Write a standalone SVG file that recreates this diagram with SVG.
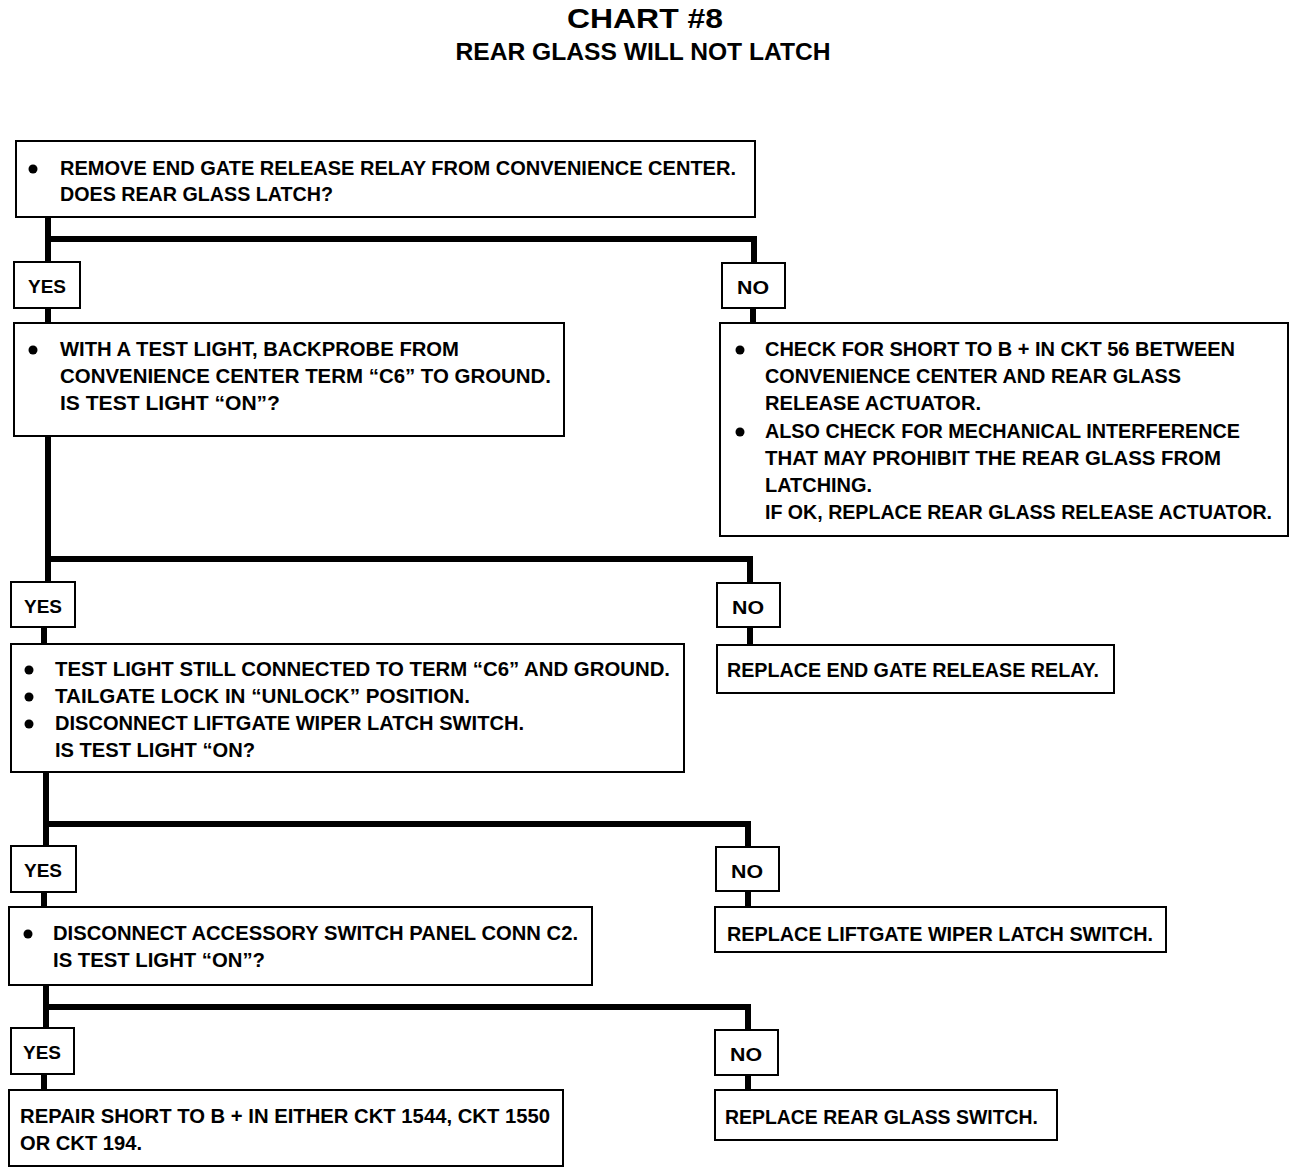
<svg xmlns="http://www.w3.org/2000/svg" width="1312" height="1174" viewBox="0 0 1312 1174">
<style>
text{font-family:"Liberation Sans",Arial,sans-serif;font-weight:bold;fill:#000}
.t{font-size:21px}
.lb{font-size:19px}
.box{fill:#fff;stroke:#000;stroke-width:2}
.con{fill:none;stroke:#000;stroke-width:6;stroke-linejoin:miter;stroke-linecap:butt}
.dot{fill:#000}
</style>
<rect width="1312" height="1174" fill="#fff"/>
<g id="title">
<text x="645" y="28" font-size="28" text-anchor="middle" textLength="156" lengthAdjust="spacingAndGlyphs">CHART #8</text>
<text x="643" y="60" font-size="23" text-anchor="middle" textLength="375" lengthAdjust="spacingAndGlyphs">REAR GLASS WILL NOT LATCH</text>
</g>
<g id="connectors">
<path class="con" d="M48 217V262M48 239H754V263"/>
<path class="con" d="M48 308V323"/>
<path class="con" d="M753 308V323"/>
<path class="con" d="M48 436V582M48 559H750V583"/>
<path class="con" d="M44 627V644"/>
<path class="con" d="M750 627V645"/>
<path class="con" d="M46 772V846M46 824H748V847"/>
<path class="con" d="M44 892V907"/>
<path class="con" d="M748 891V907"/>
<path class="con" d="M46 985V1028M46 1007H748V1030"/>
<path class="con" d="M44 1074V1090"/>
<path class="con" d="M748 1075V1090"/>
</g>
<g id="n1">
<rect class="box" x="16" y="141" width="739" height="76"/>
<circle class="dot" cx="33" cy="169" r="4.5"/>
<text class="t" x="60" y="175" textLength="676" lengthAdjust="spacingAndGlyphs">REMOVE END GATE RELEASE RELAY FROM CONVENIENCE CENTER.</text>
<text class="t" x="60" y="201" textLength="273" lengthAdjust="spacingAndGlyphs">DOES REAR GLASS LATCH?</text>
</g>
<g id="yes1">
<rect class="box" x="14" y="262" width="66" height="46"/>
<text class="lb" x="47" y="293" text-anchor="middle" textLength="38" lengthAdjust="spacingAndGlyphs">YES</text>
</g>
<g id="no1">
<rect class="box" x="722" y="263" width="63" height="45"/>
<text class="lb" x="753" y="294" text-anchor="middle" textLength="32" lengthAdjust="spacingAndGlyphs">NO</text>
</g>
<g id="n2">
<rect class="box" x="14" y="323" width="550" height="113"/>
<circle class="dot" cx="33" cy="350" r="4.5"/>
<text class="t" x="60" y="356" textLength="399" lengthAdjust="spacingAndGlyphs">WITH A TEST LIGHT, BACKPROBE FROM</text>
<text class="t" x="60" y="383" textLength="491" lengthAdjust="spacingAndGlyphs">CONVENIENCE CENTER TERM “C6” TO GROUND.</text>
<text class="t" x="60" y="410" textLength="220" lengthAdjust="spacingAndGlyphs">IS TEST LIGHT “ON”?</text>
</g>
<g id="n3">
<rect class="box" x="720" y="323" width="568" height="213"/>
<circle class="dot" cx="740" cy="350" r="4.5"/>
<text class="t" x="765" y="356" textLength="470" lengthAdjust="spacingAndGlyphs">CHECK FOR SHORT TO B +  IN CKT 56 BETWEEN</text>
<text class="t" x="765" y="383" textLength="416" lengthAdjust="spacingAndGlyphs">CONVENIENCE CENTER AND REAR GLASS</text>
<text class="t" x="765" y="410" textLength="216" lengthAdjust="spacingAndGlyphs">RELEASE ACTUATOR.</text>
<circle class="dot" cx="740" cy="432" r="4.5"/>
<text class="t" x="765" y="438" textLength="475" lengthAdjust="spacingAndGlyphs">ALSO CHECK FOR MECHANICAL INTERFERENCE</text>
<text class="t" x="765" y="465" textLength="456" lengthAdjust="spacingAndGlyphs">THAT MAY PROHIBIT THE REAR GLASS FROM</text>
<text class="t" x="765" y="492" textLength="107" lengthAdjust="spacingAndGlyphs">LATCHING.</text>
<text class="t" x="765" y="519" textLength="507" lengthAdjust="spacingAndGlyphs">IF OK, REPLACE REAR GLASS RELEASE ACTUATOR.</text>
</g>
<g id="yes2">
<rect class="box" x="11" y="582" width="64" height="45"/>
<text class="lb" x="43" y="613" text-anchor="middle" textLength="38" lengthAdjust="spacingAndGlyphs">YES</text>
</g>
<g id="no2">
<rect class="box" x="717" y="583" width="63" height="44"/>
<text class="lb" x="748" y="614" text-anchor="middle" textLength="32" lengthAdjust="spacingAndGlyphs">NO</text>
</g>
<g id="n4">
<rect class="box" x="11" y="644" width="673" height="128"/>
<circle class="dot" cx="29" cy="670" r="4.5"/>
<text class="t" x="55" y="676" textLength="615" lengthAdjust="spacingAndGlyphs">TEST LIGHT STILL CONNECTED TO TERM “C6” AND GROUND.</text>
<circle class="dot" cx="29" cy="697" r="4.5"/>
<text class="t" x="55" y="703" textLength="415" lengthAdjust="spacingAndGlyphs">TAILGATE LOCK IN “UNLOCK” POSITION.</text>
<circle class="dot" cx="29" cy="724" r="4.5"/>
<text class="t" x="55" y="730" textLength="469" lengthAdjust="spacingAndGlyphs">DISCONNECT LIFTGATE WIPER LATCH SWITCH.</text>
<text class="t" x="55" y="757" textLength="200" lengthAdjust="spacingAndGlyphs">IS TEST LIGHT “ON?</text>
</g>
<g id="n5">
<rect class="box" x="717" y="645" width="397" height="48"/>
<text class="t" x="727" y="677" textLength="372" lengthAdjust="spacingAndGlyphs">REPLACE END GATE RELEASE RELAY.</text>
</g>
<g id="yes3">
<rect class="box" x="11" y="846" width="65" height="46"/>
<text class="lb" x="43" y="877" text-anchor="middle" textLength="38" lengthAdjust="spacingAndGlyphs">YES</text>
</g>
<g id="no3">
<rect class="box" x="716" y="847" width="63" height="44"/>
<text class="lb" x="747" y="878" text-anchor="middle" textLength="32" lengthAdjust="spacingAndGlyphs">NO</text>
</g>
<g id="n6">
<rect class="box" x="9" y="907" width="583" height="78"/>
<circle class="dot" cx="28" cy="934" r="4.5"/>
<text class="t" x="53" y="940" textLength="525" lengthAdjust="spacingAndGlyphs">DISCONNECT ACCESSORY SWITCH PANEL CONN C2.</text>
<text class="t" x="53" y="967" textLength="212" lengthAdjust="spacingAndGlyphs">IS TEST LIGHT “ON”?</text>
</g>
<g id="n7">
<rect class="box" x="715" y="907" width="451" height="45"/>
<text class="t" x="727" y="941" textLength="426" lengthAdjust="spacingAndGlyphs">REPLACE LIFTGATE WIPER LATCH SWITCH.</text>
</g>
<g id="yes4">
<rect class="box" x="11" y="1028" width="63" height="46"/>
<text class="lb" x="42" y="1059" text-anchor="middle" textLength="38" lengthAdjust="spacingAndGlyphs">YES</text>
</g>
<g id="no4">
<rect class="box" x="715" y="1030" width="63" height="45"/>
<text class="lb" x="746" y="1061" text-anchor="middle" textLength="32" lengthAdjust="spacingAndGlyphs">NO</text>
</g>
<g id="n8">
<rect class="box" x="9" y="1090" width="554" height="76"/>
<text class="t" x="20" y="1123" textLength="530" lengthAdjust="spacingAndGlyphs">REPAIR SHORT TO B +  IN EITHER CKT 1544, CKT 1550</text>
<text class="t" x="20" y="1150" textLength="122" lengthAdjust="spacingAndGlyphs">OR CKT 194.</text>
</g>
<g id="n9">
<rect class="box" x="715" y="1090" width="342" height="50"/>
<text class="t" x="725" y="1124" textLength="313" lengthAdjust="spacingAndGlyphs">REPLACE REAR GLASS SWITCH.</text>
</g>
</svg>
